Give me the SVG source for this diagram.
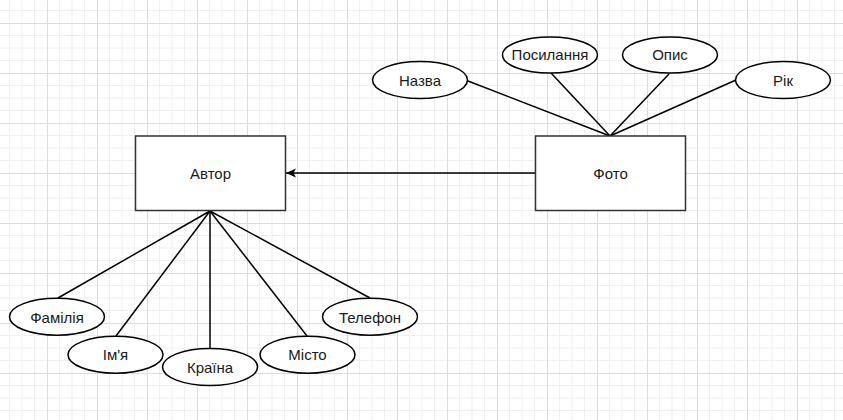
<svg xmlns="http://www.w3.org/2000/svg" width="843" height="420" viewBox="0 0 843 420">
<defs>
<pattern id="grid" x="-3" y="23" width="50" height="50" patternUnits="userSpaceOnUse">
<path d="M12.5 0V50M25 0V50M37.5 0V50M0 12.5H50M0 25H50M0 37.5H50" stroke="#f0f0f0" stroke-width="1" fill="none"/>
<path d="M0.5 0V50M0 0.5H50" stroke="#dcdcdc" stroke-width="1" fill="none"/>
</pattern>
<marker id="arrow" viewBox="0 0 10 10" refX="10" refY="5" markerWidth="10" markerHeight="10" markerUnits="userSpaceOnUse" orient="auto">
<path d="M10 5L0 0.5L2.5 5L0 9.5Z" fill="#000"/>
</marker>
<style>
.box{fill:#fff;stroke:#333;stroke-width:1.5}
.ell{fill:#fff;stroke:#000;stroke-width:1.5}
.lbl{font-family:"Liberation Sans",Arial,sans-serif;font-size:15px;fill:#1a1a1a;text-anchor:middle;dominant-baseline:central}
.edge{stroke:#000;stroke-width:1.5;fill:none}
</style>
</defs>
<rect width="843" height="420" fill="#fff"/>
<rect width="843" height="420" fill="url(#grid)"/>
<g id="connectors">
<line class="edge" x1="535" y1="173" x2="286" y2="173" marker-end="url(#arrow)"/>
<line class="edge" x1="610" y1="136" x2="468" y2="81"/>
<line class="edge" x1="610" y1="136" x2="551" y2="73"/>
<line class="edge" x1="610" y1="136" x2="669" y2="74"/>
<line class="edge" x1="610" y1="136" x2="736" y2="80"/>
<line class="edge" x1="210" y1="211" x2="58" y2="298"/>
<line class="edge" x1="210" y1="211" x2="116" y2="336"/>
<line class="edge" x1="210" y1="211" x2="210" y2="348"/>
<line class="edge" x1="210" y1="211" x2="307" y2="336"/>
<line class="edge" x1="210" y1="211" x2="370" y2="298"/>
</g>
<g id="avtor"><rect class="box" x="135.5" y="136" width="150" height="74.5"/><text class="lbl" x="210.5" y="173">Автор</text></g>
<g id="foto"><rect class="box" x="535.5" y="136" width="150" height="74.5"/><text class="lbl" x="610.5" y="173">Фото</text></g>
<g id="nazva"><ellipse class="ell" cx="420" cy="80" rx="47.5" ry="18.5"/><text class="lbl" x="420" y="80">Назва</text></g>
<g id="posylannia"><ellipse class="ell" cx="550" cy="55" rx="47.5" ry="18"/><text class="lbl" x="550" y="54">Посилання</text></g>
<g id="opys"><ellipse class="ell" cx="670" cy="55" rx="47.5" ry="18"/><text class="lbl" x="670" y="54">Опис</text></g>
<g id="rik"><ellipse class="ell" cx="783" cy="80" rx="47.5" ry="18.5"/><text class="lbl" x="783" y="80">Рік</text></g>
<g id="familiia"><ellipse class="ell" cx="57" cy="316.7" rx="47.5" ry="18.5"/><text class="lbl" x="57" y="317">Фамілія</text></g>
<g id="imia"><ellipse class="ell" cx="115.5" cy="354.7" rx="47.5" ry="18.5"/><text class="lbl" x="115.5" y="354">Ім'я</text></g>
<g id="kraina"><ellipse class="ell" cx="210" cy="367" rx="47.5" ry="18.5"/><text class="lbl" x="210" y="367">Країна</text></g>
<g id="misto"><ellipse class="ell" cx="307.5" cy="354.7" rx="47.5" ry="18.5"/><text class="lbl" x="307.5" y="354">Місто</text></g>
<g id="telefon"><ellipse class="ell" cx="370" cy="316.7" rx="47.5" ry="18.5"/><text class="lbl" x="370" y="317">Телефон</text></g>
</svg>
